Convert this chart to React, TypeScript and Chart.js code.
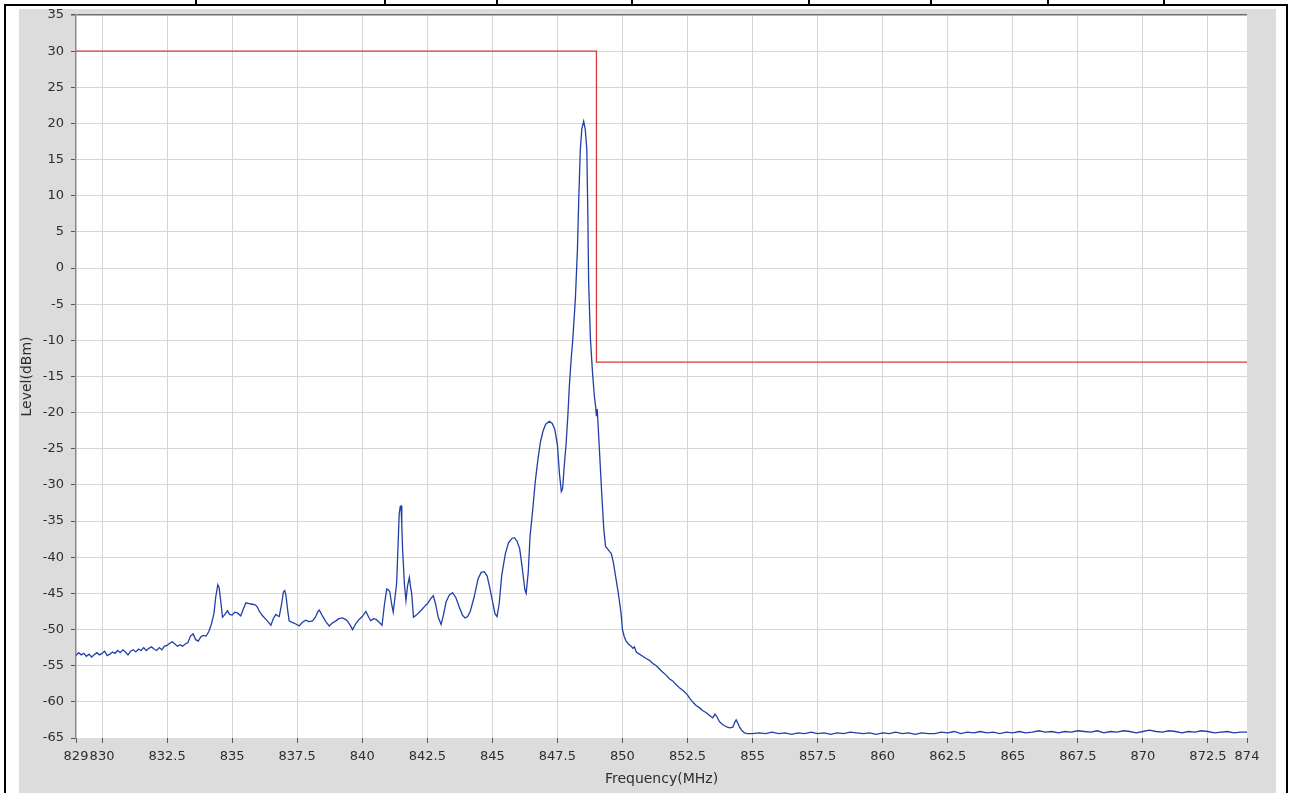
import React, { useEffect, useRef } from 'react';
import Chart from 'chart.js/auto';

// spectrum trace as [MHz, dBm] pairs
const lowBandTrace: [number, number][] = [
  [829.0, -53.6], [829.1, -53.2], [829.2, -53.5], [829.3, -53.3], [829.4, -53.7],
  [829.5, -53.4], [829.6, -53.8], [829.7, -53.5], [829.8, -53.2], [829.9, -53.5],
  [830.0, -53.3], [830.1, -53.0], [830.2, -53.6], [830.3, -53.4], [830.4, -53.1],
  [830.5, -53.3], [830.6, -52.9], [830.7, -53.2], [830.8, -52.8], [830.9, -53.1],
  [831.0, -53.5], [831.1, -53.0], [831.2, -52.8], [831.3, -53.1], [831.4, -52.7],
  [831.5, -52.9], [831.6, -52.5], [831.7, -52.9], [831.8, -52.6], [831.9, -52.4],
  [832.0, -52.7], [832.1, -52.9], [832.2, -52.5], [832.3, -52.8], [832.4, -52.3],
  [832.5, -52.2], [832.6, -51.9], [832.7, -51.7], [832.8, -52.0], [832.9, -52.3],
  [833.0, -52.1], [833.1, -52.3], [833.2, -52.0], [833.3, -51.8], [833.4, -50.9],
  [833.5, -50.6], [833.6, -51.4], [833.7, -51.6], [833.8, -51.0], [833.9, -50.8],
  [834.0, -50.9], [834.1, -50.3], [834.2, -49.3], [834.3, -47.8], [834.37, -45.5],
  [834.45, -43.8], [834.5, -44.2], [834.56, -46.0], [834.63, -48.3], [834.7, -48.0],
  [834.82, -47.4], [834.9, -47.9], [835.0, -48.0], [835.1, -47.6], [835.2, -47.7],
  [835.33, -48.1], [835.45, -47.0], [835.53, -46.3], [835.65, -46.4], [835.78, -46.5],
  [835.9, -46.6], [835.97, -46.9], [836.05, -47.5], [836.17, -48.1], [836.3, -48.6],
  [836.4, -49.0], [836.49, -49.4], [836.58, -48.5], [836.68, -47.9], [836.75, -48.1],
  [836.81, -48.2], [836.9, -46.5], [836.97, -44.8], [837.02, -44.6], [837.07, -45.3],
  [837.13, -47.2], [837.19, -48.8], [837.3, -49.0], [837.38, -49.1], [837.48, -49.3],
  [837.58, -49.5], [837.7, -49.0], [837.83, -48.7], [837.95, -48.9], [838.09, -48.8],
  [838.2, -48.3], [838.3, -47.5], [838.35, -47.3], [838.47, -48.1], [838.6, -48.9],
  [838.73, -49.5], [838.85, -49.1], [838.99, -48.8], [839.1, -48.5], [839.24, -48.4],
  [839.35, -48.6], [839.43, -48.8], [839.55, -49.5], [839.63, -50.0], [839.75, -49.2],
  [839.88, -48.6], [840.0, -48.2], [840.14, -47.5], [840.25, -48.3], [840.33, -48.8],
  [840.43, -48.5], [840.53, -48.6], [840.65, -49.0], [840.76, -49.4], [840.85, -46.6],
  [840.94, -44.4], [841.0, -44.5], [841.06, -44.8], [841.13, -46.5], [841.19, -47.6],
  [841.26, -45.5], [841.32, -43.7], [841.38, -38.0], [841.42, -34.0], [841.46, -33.0],
  [841.49, -32.9], [841.52, -35.5], [841.55, -38.9], [841.62, -43.7], [841.68, -46.0],
  [841.74, -44.0], [841.81, -42.8], [841.86, -44.2], [841.9, -45.0], [841.97, -48.3],
  [842.08, -48.0], [842.19, -47.6], [842.3, -47.2], [842.4, -46.8], [842.51, -46.4],
  [842.62, -45.8], [842.73, -45.3], [842.82, -46.5], [842.92, -48.3], [843.03, -49.3],
  [843.12, -48.0], [843.22, -46.2], [843.35, -45.2], [843.47, -44.9], [843.6, -45.6],
  [843.72, -46.8], [843.85, -48.0], [843.95, -48.4], [844.05, -48.2], [844.15, -47.5],
  [844.3, -45.5], [844.45, -43.0], [844.57, -42.1], [844.69, -42.0], [844.8, -42.6],
  [844.9, -44.2], [845.0, -46.0], [845.1, -47.8], [845.18, -48.2],
];

const carrierTrace: [number, number][] = [
  [845.26, -46.5], [845.36, -42.5], [845.5, -39.5], [845.62, -38.0], [845.75, -37.4],
  [845.85, -37.3], [845.95, -37.8], [846.05, -38.8], [846.15, -41.5], [846.25, -44.5],
  [846.3, -45.0], [846.38, -42.0], [846.45, -37.0], [846.55, -33.5], [846.65, -29.5],
  [846.75, -26.5], [846.85, -24.0], [846.95, -22.5], [847.05, -21.6], [847.19, -21.2],
  [847.3, -21.5], [847.4, -22.3], [847.5, -24.5], [847.58, -28.5], [847.65, -30.9],
  [847.7, -30.5], [847.76, -27.5], [847.83, -24.5], [847.9, -20.5], [847.96, -16.3],
  [848.03, -12.5], [848.09, -9.9], [848.19, -4.3], [848.27, 2.6], [848.32, 9.5],
  [848.38, 16.4], [848.44, 19.3], [848.51, 20.3], [848.57, 19.2], [848.63, 16.4],
  [848.67, 7.2], [848.7, -2.0], [848.77, -9.9], [848.85, -14.5], [848.92, -17.7],
  [848.97, -19.2], [849.0, -20.5], [849.03, -19.5], [849.06, -21.5], [849.12, -25.5],
  [849.2, -31.0], [849.28, -36.0], [849.35, -38.5], [849.42, -38.8], [849.5, -39.2],
  [849.57, -39.5], [849.65, -40.7], [849.73, -42.5], [849.82, -44.5], [849.9, -46.5],
  [849.95, -47.9], [850.0, -50.0],
];

const rollOffTrace: [number, number][] = [
  [850.07, -51.0], [850.14, -51.6], [850.23, -52.0], [850.33, -52.3], [850.4, -52.6],
  [850.46, -52.4], [850.53, -53.1], [850.65, -53.4], [850.78, -53.7], [850.91, -54.0],
  [851.05, -54.3], [851.17, -54.7], [851.3, -55.0], [851.43, -55.5], [851.55, -55.9],
  [851.68, -56.3], [851.8, -56.8], [851.93, -57.1], [852.06, -57.6], [852.2, -58.1],
  [852.35, -58.5], [852.49, -59.0], [852.6, -59.6], [852.72, -60.1], [852.83, -60.5],
  [852.95, -60.8], [853.08, -61.2], [853.22, -61.5], [853.35, -61.9], [853.47, -62.2],
  [853.55, -61.7], [853.62, -62.0], [853.72, -62.7], [853.8, -63.0], [853.92, -63.3],
  [854.03, -63.5], [854.12, -63.6], [854.24, -63.5], [854.32, -62.8], [854.37, -62.5],
  [854.44, -63.0], [854.5, -63.5], [854.6, -64.0], [854.69, -64.3], [854.8, -64.4],
  [854.88, -64.4],
];

const floorTrace: [number, number][] = [
  [855.0, -64.4], [855.25, -64.3], [855.5, -64.4], [855.75, -64.2], [856.0, -64.4],
  [856.25, -64.3], [856.5, -64.5], [856.75, -64.3], [857.0, -64.4], [857.25, -64.2],
  [857.5, -64.4], [857.75, -64.3], [858.0, -64.5], [858.25, -64.3], [858.5, -64.4],
  [858.75, -64.2], [859.0, -64.3], [859.25, -64.4], [859.5, -64.3], [859.75, -64.5],
  [860.0, -64.3], [860.25, -64.4], [860.5, -64.2], [860.75, -64.4], [861.0, -64.3],
  [861.25, -64.5], [861.5, -64.3], [861.75, -64.4], [862.0, -64.4], [862.25, -64.2],
  [862.5, -64.3], [862.75, -64.1], [863.0, -64.4], [863.25, -64.2], [863.5, -64.3],
  [863.75, -64.1], [864.0, -64.3], [864.25, -64.2], [864.5, -64.4], [864.75, -64.2],
  [865.0, -64.3], [865.25, -64.1], [865.5, -64.3], [865.75, -64.2], [866.0, -64.0],
  [866.25, -64.2], [866.5, -64.1], [866.75, -64.3], [867.0, -64.1], [867.25, -64.2],
  [867.5, -64.0], [867.75, -64.1], [868.0, -64.2], [868.25, -64.0], [868.5, -64.3],
  [868.75, -64.1], [869.0, -64.2], [869.25, -64.0], [869.5, -64.1], [869.75, -64.3],
  [870.0, -64.1], [870.25, -63.9], [870.5, -64.1], [870.75, -64.2], [871.0, -64.0],
  [871.25, -64.1], [871.5, -64.3], [871.75, -64.1], [872.0, -64.2], [872.25, -64.0],
  [872.5, -64.1], [872.75, -64.3], [873.0, -64.2], [873.25, -64.1], [873.5, -64.3],
  [873.75, -64.2], [874.0, -64.2],
];

// emission mask (red)
const limitFreq = [829, 849, 849, 874];
const limitLevel = [30, 30, -13, -13];

const xTicks = [829, 830, 832.5, 835, 837.5, 840, 842.5, 845, 847.5, 850, 852.5, 855,
  857.5, 860, 862.5, 865, 867.5, 870, 872.5, 874];

// little cells of the table above the graph
const topDividers = [195, 384, 496, 631, 808, 930, 1047, 1163];

const plotBackground = {
  id: 'plotBackground',
  beforeDraw(chart: Chart) {
    const { ctx, chartArea } = chart;
    ctx.save();
    ctx.fillStyle = '#ffffff';
    ctx.fillRect(chartArea.left, chartArea.top, chartArea.right - chartArea.left, chartArea.bottom - chartArea.top);
    ctx.restore();
  },
};

const SpectrumChart: React.FC = () => {
  const canvasRef = useRef<HTMLCanvasElement>(null);

  useEffect(() => {
    const ctx = canvasRef.current?.getContext('2d');
    if (!ctx) return;

    const trace = [...lowBandTrace, ...carrierTrace, ...rollOffTrace, ...floorTrace]
      .map(([x, y]) => ({ x, y }));
    const limit = limitFreq.map((x, i) => ({ x, y: limitLevel[i] }));
    const tickFont = { family: '"DejaVu Sans", sans-serif', size: 13 };
    const titleFont = { family: '"DejaVu Sans", sans-serif', size: 14 };

    const chart = new Chart(ctx, {
      type: 'line',
      data: {
        datasets: [
          {
            label: 'Limit',
            data: limit,
            borderColor: '#d33a3a',
            borderWidth: 1.3,
            pointRadius: 0,
            tension: 0,
          },
          {
            label: 'Level',
            data: trace,
            borderColor: '#2140a6',
            borderWidth: 1.3,
            pointRadius: 0,
            tension: 0,
          },
        ],
      },
      options: {
        responsive: true,
        maintainAspectRatio: false,
        animation: false,
        layout: { padding: { top: 0, right: 29, left: 0, bottom: 0 } },
        plugins: {
          legend: { display: false },
          tooltip: { enabled: false },
        },
        scales: {
          x: {
            type: 'linear',
            min: 829,
            max: 874,
            afterBuildTicks: (scale) => {
              scale.ticks = xTicks.map((value) => ({ value }));
            },
            afterFit: (scale) => {
              scale.height = 55;
            },
            ticks: {
              autoSkip: false,
              maxRotation: 0,
              padding: 6,
              color: '#2e2e2e',
              font: tickFont,
              callback: (value) => String(value),
            },
            grid: {
              color: (c) => (c.tick && (c.tick.value === 829 || c.tick.value === 874) ? 'rgba(0,0,0,0)' : '#d6d6d6'),
              tickColor: '#555555',
              tickLength: 5,
            },
            border: { display: false },
            title: {
              display: true,
              text: 'Frequency(MHz)',
              color: '#2e2e2e',
              font: titleFont,
              padding: { top: 0, bottom: 5 },
            },
          },
          y: {
            min: -65,
            max: 35,
            afterFit: (scale) => {
              scale.width = 57;
            },
            ticks: {
              stepSize: 5,
              padding: 7,
              color: '#2e2e2e',
              font: { ...tickFont, lineHeight: '14px' },
              callback: (value) => String(value),
            },
            grid: {
              color: (c) => {
                if (!c.tick) return '#d6d6d6';
                if (c.tick.value === 35) return '#6e6e6e';
                if (c.tick.value === -65) return 'rgba(0,0,0,0)';
                return '#d6d6d6';
              },
              lineWidth: (c) => (c.tick && c.tick.value === 35 ? 1.5 : 1),
              tickColor: '#555555',
              tickLength: 5,
            },
            border: { display: true, color: '#8a8a8a', width: 1.5 },
            title: {
              display: true,
              text: 'Level(dBm)',
              color: '#2e2e2e',
              font: titleFont,
              padding: { top: 0, bottom: 0 },
            },
          },
        },
      },
      plugins: [plotBackground],
    });

    return () => {
      chart.destroy();
    };
  }, []);

  return (
    <>
      <div style={{ position: 'absolute', left: 19, top: 9, width: 1257, height: 784, background: '#dcdcdc' }} />
      {/* canvas starts a little above the grey panel so the plot top lands where the tick padding puts it */}
      <div style={{ position: 'absolute', left: 19, top: 1, width: 1257, height: 792 }}>
        <canvas ref={canvasRef}></canvas>
      </div>
    </>
  );
};

export default function App() {
  return (
    <div style={{ position: 'absolute', left: 0, top: 0, width: 1290, height: 793, background: '#ffffff', overflow: 'hidden' }}>
      <div style={{ position: 'absolute', left: 4, top: 4, width: 1284, height: 2, background: '#000' }} />
      <div style={{ position: 'absolute', left: 4, top: 4, width: 2, height: 789, background: '#000' }} />
      <div style={{ position: 'absolute', left: 1286, top: 4, width: 2, height: 789, background: '#000' }} />
      {topDividers.map((x) => (
        <div key={x} style={{ position: 'absolute', left: x, top: 0, width: 2, height: 4, background: '#000' }} />
      ))}
      <SpectrumChart />
    </div>
  );
}
